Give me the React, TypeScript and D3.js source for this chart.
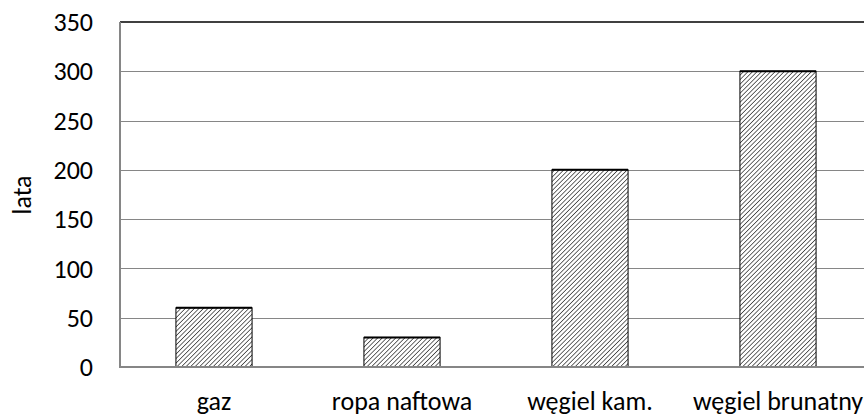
import React from "react";
import * as d3 from "d3";

const categories = ["gaz", "ropa naftowa", "węgiel kam.", "węgiel brunatny"];
const values = [60, 30, 200, 300];
const yTicks = [0, 50, 100, 150, 200, 250, 300, 350];
const yLabel = "lata";

const W = 864, H = 420;
const left = 120, right = 872, top = 22, bottom = 367;
const font = "Carlito, 'Open Sans', 'Noto Sans', sans-serif";
const fs = 26;

export default function App() {
  const x = d3.scaleBand<string>().domain(categories).range([left, right]).paddingInner(0.595).paddingOuter(0.2975);
  const y = d3.scaleLinear().domain([0, 350]).range([bottom, top]);
  const bw = x.bandwidth();
  return (
    <svg width={W} height={H} style={{ position: "absolute", left: 0, top: 0 }}>
      <defs>
        <pattern id="hatch" patternUnits="userSpaceOnUse" width={3.2} height={3.2} patternTransform="rotate(45)">
          <rect width={3.2} height={3.2} fill="#fff" />
          <line x1={0} y1={0} x2={0} y2={3.2} stroke="#2a2a2a" strokeWidth={1.4} />
        </pattern>
      </defs>
      <rect width={W} height={H} fill="#fff" />
      {yTicks.filter(t => t > 0 && t < 350).map(t => (
        <line key={t} x1={left} x2={W} y1={Math.round(y(t)) + 0.5} y2={Math.round(y(t)) + 0.5} stroke="#868686" strokeWidth={1} />
      ))}
      <line x1={left} x2={W} y1={y(350)} y2={y(350)} stroke="#000" strokeWidth={1.5} />
      {categories.map((c, i) => (
        <g key={c}>
          <rect x={x(c)!} y={y(values[i])} width={bw} height={bottom - y(values[i])} fill="url(#hatch)" stroke="#000" strokeWidth={1} />
          <line x1={x(c)!} x2={x(c)! + bw} y1={y(values[i])} y2={y(values[i])} stroke="#000" strokeWidth={2} />
        </g>
      ))}
      <line x1={left} x2={left} y1={top} y2={bottom} stroke="#868686" strokeWidth={2} />
      <line x1={left - 1} x2={W} y1={bottom} y2={bottom} stroke="#868686" strokeWidth={2} />
      {yTicks.map(t => (
        <text key={t} x={93} y={y(t)} dy="0.35em" textAnchor="end" fontFamily={font} fontSize={fs} fill="#000">{t}</text>
      ))}
      {categories.map(c => (
        <text key={c} x={x(c)! + bw / 2} y={410} textAnchor="middle" fontFamily={font} fontSize={fs} fill="#000">{c}</text>
      ))}
      <text transform={`translate(31,195) rotate(-90)`} textAnchor="middle" fontFamily={font} fontSize={fs} fill="#000">{yLabel}</text>
    </svg>
  );
}
